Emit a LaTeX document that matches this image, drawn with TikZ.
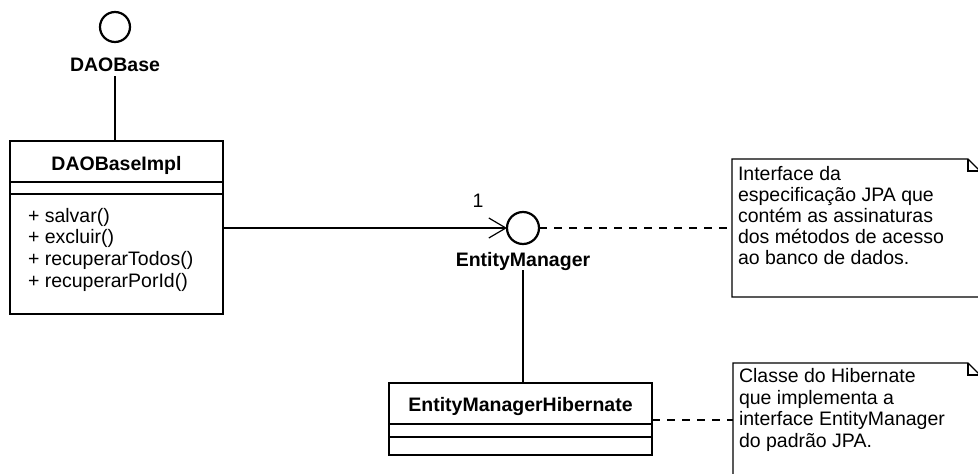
\documentclass[tikz,border=0pt]{standalone}
\usepackage{fontspec}
\setmainfont{Liberation Sans}
\usetikzlibrary{arrows.meta,calc}
\begin{document}
\begin{tikzpicture}[x=1pt,y=-1pt,
  txt/.style={inner sep=0pt, outer sep=0pt, font=\fontsize{19.5}{21.5}\selectfont},
  title/.style={inner sep=0pt, outer sep=0pt, font=\fontsize{19.5}{21.5}\selectfont\bfseries},
  iface/.style={circle, draw, line width=2.2pt, minimum size=30pt, inner sep=0pt, outer sep=0pt},
  classbox/.style={draw, line width=2.4pt, inner sep=0pt, outer sep=0pt},
  divider/.style={line width=1.2pt},
  link/.style={line width=1.2pt},
  notelink/.style={line width=1.2pt, dash pattern=on 8pt off 7pt},
  notebody/.style={inner sep=0pt, outer sep=0pt},
  noteline/.style={line width=1.2pt, line join=miter},
]
\useasboundingbox (0,0) rectangle (978,474);
\clip (0,0) rectangle (978,474);

% interface DAOBase (lollipop)
\node[iface] (dao) at (115,27) {};
\node[title, anchor=base] (daoLbl) at (115,71) {DAOBase};

% class DAOBaseImpl
\node[classbox, minimum width=213pt, minimum height=173pt] (impl) at (116.5,227.5) {};
\draw[divider] (impl.west |- 0,182) -- (impl.east |- 0,182);
\draw[divider] (impl.west |- 0,194) -- (impl.east |- 0,194);
\node[title, anchor=base] (implName) at (116.5,170) {DAOBaseImpl};
\node[txt, anchor=base west] (m1) at (28,222) {+ salvar()};
\node[txt, anchor=base west] (m2) at (28,243.5) {+ excluir()};
\node[txt, anchor=base west] (m3) at (28,265) {+ recuperarTodos()};
\node[txt, anchor=base west] (m4) at (28,287) {+ recuperarPorId()};

% realization of DAOBase
\draw[link] ($(daoLbl.south)+(0,5)$) -- (daoLbl.south |- impl.north);

% interface EntityManager (lollipop)
\node[iface, minimum size=32pt] (em) at (523,228) {};
\node[title, anchor=base] (emLbl) at (523,266) {EntityManager};

% class EntityManagerHibernate
\node[classbox, minimum width=263pt, minimum height=72pt] (emh) at (520.5,419) {};
\draw[divider] (emh.west |- 0,424) -- (emh.east |- 0,424);
\draw[divider] (emh.west |- 0,437) -- (emh.east |- 0,437);
\node[title, anchor=base] (emhName) at (520.5,411) {EntityManagerHibernate};

% dependency DAOBaseImpl -> EntityManager
\draw[link, -{Straight Barb[length=17pt,width=20pt,line width=1.2pt]}]
  (impl.east |- em.west) -- (em.west);
\node[txt, anchor=base] (mult) at (478,207) {1};

% realization of EntityManager
\draw[link] (emLbl.south) -- (emLbl.south |- emh.north);

% note on EntityManager
\node[notebody, minimum width=248pt, minimum height=138pt] (note1) at (856,228) {};
\draw[noteline] (note1.south west) -- (note1.north west)
  -- ($(note1.north east)+(-12,0)$) -- ($(note1.north east)+(0,12)$)
  -- (note1.south east) -- cycle;
\draw[noteline] ($(note1.north east)+(-12,0)$) -- ($(note1.north east)+(-12,12)$)
  -- ($(note1.north east)+(0,12)$);
\node[txt, anchor=base west] (n1a) at (738,180.5) {Interface da};
\node[txt, anchor=base west] (n1b) at (738,201.5) {especificação JPA que};
\node[txt, anchor=base west] (n1c) at (738,222.5) {contém as assinaturas};
\node[txt, anchor=base west] (n1d) at (738,243.5) {dos métodos de acesso};
\node[txt, anchor=base west] (n1e) at (738,264.5) {ao banco de dados.};
\draw[notelink] (em.east) -- (note1.west);

% note on EntityManagerHibernate
\node[notebody, minimum width=247pt, minimum height=114pt] (note2) at (856.5,420) {};
\draw[noteline] (note2.south west) -- (note2.north west)
  -- ($(note2.north east)+(-12,0)$) -- ($(note2.north east)+(0,12)$)
  -- (note2.south east) -- cycle;
\draw[noteline] ($(note2.north east)+(-12,0)$) -- ($(note2.north east)+(-12,12)$)
  -- ($(note2.north east)+(0,12)$);
\node[txt, anchor=base west] (n2a) at (739,382.5) {Classe do Hibernate};
\node[txt, anchor=base west] (n2b) at (739,404) {que implementa a};
\node[txt, anchor=base west] (n2c) at (739,425.5) {interface EntityManager};
\node[txt, anchor=base west] (n2d) at (739,447) {do padrão JPA.};
\draw[notelink] (emh.east |- note2.west) -- (note2.west);
\end{tikzpicture}
\end{document}
